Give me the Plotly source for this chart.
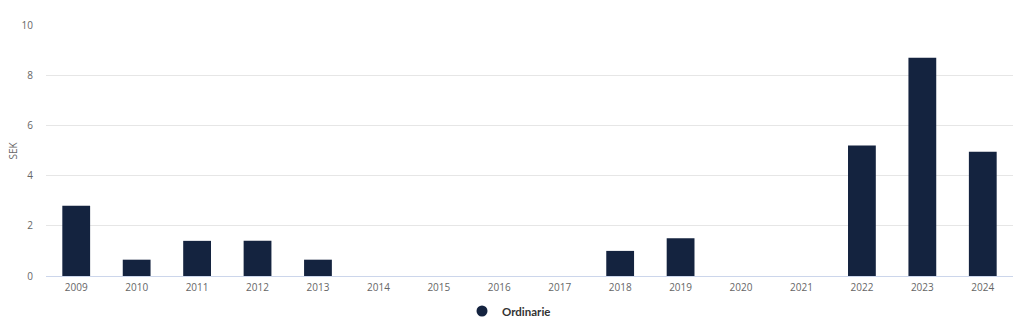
import plotly.graph_objects as go

years = ["2009", "2010", "2011", "2012", "2013", "2014", "2015", "2016",
         "2017", "2018", "2019", "2020", "2021", "2022", "2023", "2024"]
ordinarie = [2.8, 0.65, 1.4, 1.4, 0.65, 0, 0, 0, 0, 1.0, 1.5, 0, 0, 5.2, 8.7, 4.95]
y_title = "SEK"

bar_color = "#14233f"
font_family = "'Open Sans', sans-serif"

fig = go.Figure()
fig.add_trace(go.Bar(
    x=years, y=ordinarie, name="Ordinarie", showlegend=False,
    marker=dict(color=bar_color, line=dict(width=0)),
))
# legend entry drawn with a round symbol
fig.add_trace(go.Scatter(
    x=[None], y=[None], mode="markers", name="Ordinarie",
    marker=dict(symbol="circle", size=11, color=bar_color),
))

fig.update_layout(
    width=1024, height=328,
    margin=dict(l=46, r=11, t=25, b=52, autoexpand=False),
    paper_bgcolor="white", plot_bgcolor="white",
    bargap=0.54,
    font=dict(family=font_family, size=10, color="#666666"),
    showlegend=True,
    legend=dict(orientation="h", xref="container", yref="container",
                x=462 / 1024, xanchor="left", y=1 - 311 / 328, yanchor="middle",
                font=dict(size=11.5, color="#333333", family="Lato, sans-serif", weight="bold"),
                itemwidth=30),
    xaxis=dict(showgrid=False, showline=True, linecolor="#ccd6eb", linewidth=1,
               automargin=False, ticks="", tickfont=dict(size=10, color="#666666"),
               ticklabelstandoff=2),
    yaxis=dict(range=[0, 10], tickvals=[0, 2, 4, 6, 8, 10], showgrid=True,
               gridcolor="#e6e6e6", gridwidth=1, zeroline=False, showline=False,
               automargin=False, ticks="", tickfont=dict(size=10, color="#666666"),
               ticklabelstandoff=12),
    annotations=[dict(text=y_title, textangle=-90, xref="paper", yref="paper",
                      x=-34 / 967, y=0.5, xanchor="center", yanchor="middle",
                      showarrow=False, font=dict(size=10, color="#666666"))],
)

fig.write_html("out.html")
